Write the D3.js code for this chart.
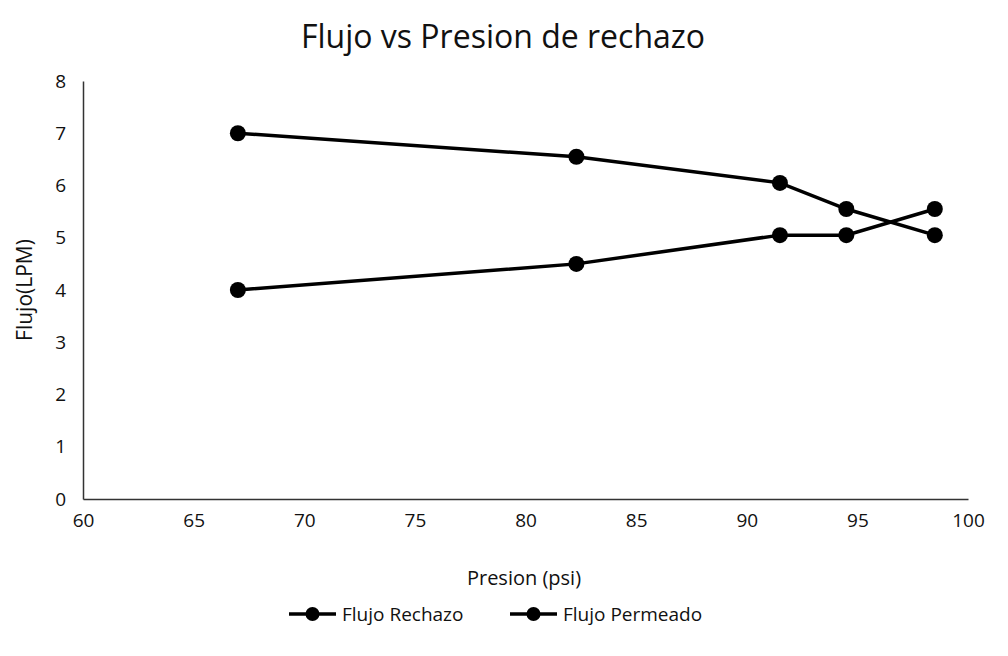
<!DOCTYPE html>
<html>
<head>
<meta charset="utf-8">
<script src="https://cdn.jsdelivr.net/npm/d3@7"></script>
<style>
  body { margin: 0; background: #fff; }
  text { font-family: "Open Sans", sans-serif; fill: #111; }
</style>
</head>
<body>
<div id="chart"></div>
<script>
// presion (psi) readings
const presion = [67, 82.3, 91.5, 94.5, 98.5];
const flujoRechazo = [7.0, 6.55, 6.05, 5.55, 5.05];
const flujoPermeado = [4.0, 4.5, 5.05, 5.05, 5.55];
const seriesNames = ['Flujo Rechazo', 'Flujo Permeado'];
const xTicks = [60, 65, 70, 75, 80, 85, 90, 95, 100];
const yTicks = [0, 1, 2, 3, 4, 5, 6, 7, 8];

const w = 1008, h = 656;
const margin = {left: 83, right: 40, top: 81, bottom: 157};

const svg = d3.select('#chart').append('svg')
  .attr('width', w)
  .attr('height', h);

const x = d3.scaleLinear().domain([60, 100]).range([margin.left, w - margin.right]);
const y = d3.scaleLinear().domain([0, 8]).range([h - margin.bottom, margin.top]);

// title
svg.append('text')
  .attr('x', 503).attr('y', 48)
  .attr('text-anchor', 'middle')
  .style('font-size', '32px')
  .text('Flujo vs Presion de rechazo');

// axes
const xAxis = svg.append('g')
  .attr('transform', 'translate(0,' + y(0) + ')')
  .call(d3.axisBottom(x).tickValues(xTicks).tickSize(0).tickPadding(15));
const yAxis = svg.append('g')
  .attr('transform', 'translate(' + x(60) + ',0)')
  .call(d3.axisLeft(y).tickValues(yTicks).tickSize(0).tickPadding(17));

[xAxis, yAxis].forEach(function(a){
  a.select('.domain').attr('stroke', '#333').attr('stroke-width', 1.5);
  a.selectAll('text').style('font-size', '19px').attr('fill', '#111');
});

svg.append('text')
  .attr('x', 524).attr('y', 585)
  .attr('text-anchor', 'middle')
  .style('font-size', '20px')
  .text('Presion (psi)');

svg.append('text')
  .attr('transform', 'translate(32,' + y(4) + ') rotate(-90)')
  .attr('text-anchor', 'middle')
  .style('font-size', '21px')
  .text('Flujo(LPM)');

// series
const series = [flujoRechazo, flujoPermeado].map(function(vals, i){
  return {name: seriesNames[i], points: presion.map(function(p, j){ return [p, vals[j]]; })};
});

const line = d3.line()
  .x(function(d){ return x(d[0]); })
  .y(function(d){ return y(d[1]); });

series.forEach(function(s){
  svg.append('path')
    .attr('d', line(s.points))
    .attr('fill', 'none')
    .attr('stroke', '#000')
    .attr('stroke-width', 3.5);
  svg.selectAll(null)
    .data(s.points)
    .enter()
    .append('circle')
    .attr('cx', function(d){ return x(d[0]); })
    .attr('cy', function(d){ return y(d[1]); })
    .attr('r', 8)
    .attr('fill', '#000');
});

// legend
const legendX = [289, 510];
const legend = svg.selectAll('.legend')
  .data(seriesNames)
  .enter()
  .append('g')
  .attr('class', 'legend')
  .attr('transform', function(d, i){ return 'translate(' + legendX[i] + ',614)'; });

legend.append('line')
  .attr('x1', 0).attr('x2', 47)
  .attr('stroke', '#000').attr('stroke-width', 3.5);
legend.append('circle')
  .attr('cx', 23.5).attr('r', 7).attr('fill', '#000');
legend.append('text')
  .attr('x', 53).attr('y', 7)
  .style('font-size', '19px')
  .text(function(d){ return d; });
</script>
</body>
</html>
